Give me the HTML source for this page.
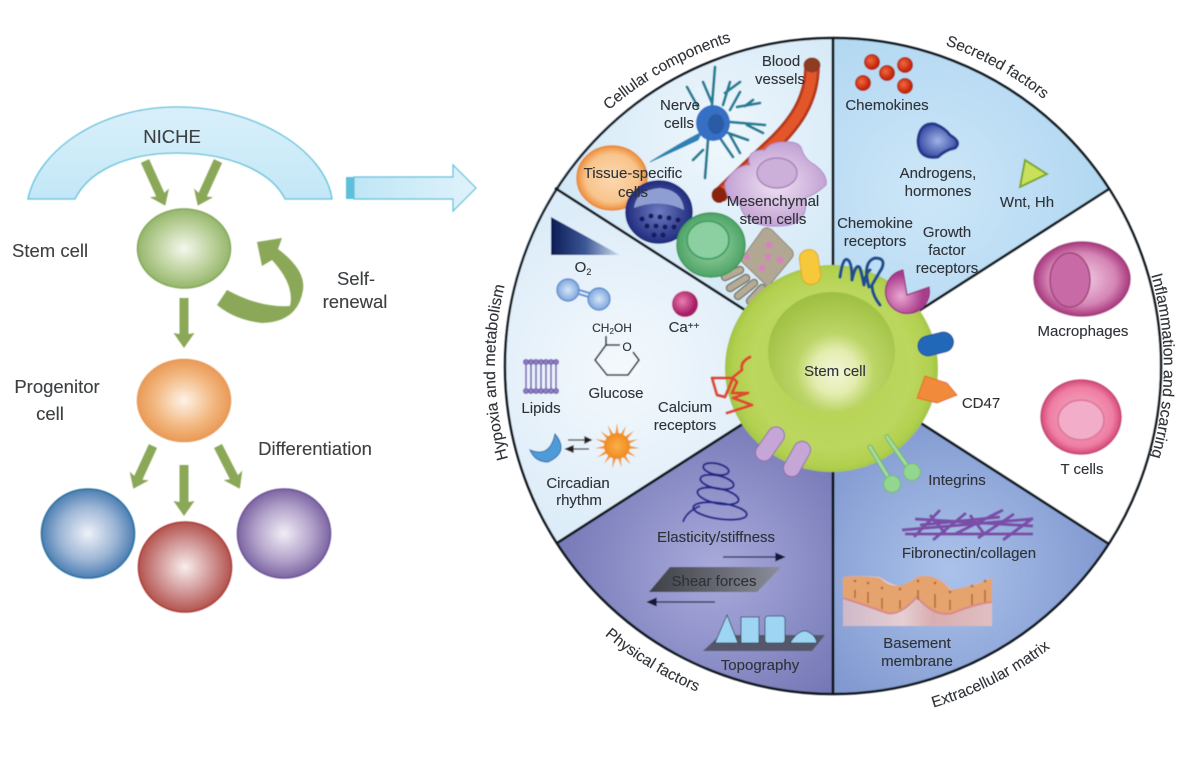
<!DOCTYPE html>
<html><head><meta charset="utf-8"><title>Stem cell niche</title>
<style>html,body{margin:0;padding:0;background:#fff}svg{display:block}text{font-family:"Liberation Sans",sans-serif;fill:#2f3337;stroke:#2f3337;stroke-width:.12px}.lft text{fill:#3c3f42;stroke:#3c3f42}</style></head>
<body>
<svg xmlns="http://www.w3.org/2000/svg" width="1200" height="767" viewBox="0 0 1200 767">
<defs>
<filter id="soft" x="-2%" y="-2%" width="104%" height="104%"><feGaussianBlur stdDeviation="0.55"/></filter>
<filter id="softT" x="-2%" y="-2%" width="104%" height="104%"><feGaussianBlur stdDeviation="0.35"/></filter>
<linearGradient id="sky" x1="0" y1="0" x2="0" y2="1"><stop offset="0" stop-color="#d9f0fa"/><stop offset="1" stop-color="#c3e7f7"/></linearGradient>
<linearGradient id="sky2" x1="0" y1="0" x2="1" y2="0"><stop offset="0" stop-color="#bfe6f6"/><stop offset="1" stop-color="#dff3fb"/></linearGradient>
<radialGradient id="gG"><stop offset="0" stop-color="#f4f8ee"/><stop offset=".6" stop-color="#bdd29d"/><stop offset="1" stop-color="#95b76c"/></radialGradient>
<radialGradient id="gO"><stop offset="0" stop-color="#fdf3e8"/><stop offset=".6" stop-color="#f3bb85"/><stop offset="1" stop-color="#ea9a57"/></radialGradient>
<radialGradient id="gB"><stop offset="0" stop-color="#eef2f8"/><stop offset=".6" stop-color="#9db6d6"/><stop offset="1" stop-color="#4d7fb3"/></radialGradient>
<radialGradient id="gR"><stop offset="0" stop-color="#f8eeee"/><stop offset=".6" stop-color="#cf9291"/><stop offset="1" stop-color="#b4544f"/></radialGradient>
<radialGradient id="gP"><stop offset="0" stop-color="#f1eef6"/><stop offset=".6" stop-color="#b3a3cb"/><stop offset="1" stop-color="#7d66a3"/></radialGradient>
<radialGradient id="s1" gradientUnits="userSpaceOnUse" cx="720" cy="140" r="190"><stop offset="0" stop-color="#eef7fc"/><stop offset="1" stop-color="#cfe6f6"/></radialGradient>
<radialGradient id="s2" gradientUnits="userSpaceOnUse" cx="930" cy="190" r="200"><stop offset="0" stop-color="#cde6f8"/><stop offset="1" stop-color="#aed6f1"/></radialGradient>
<radialGradient id="s3" gradientUnits="userSpaceOnUse" cx="620" cy="370" r="170"><stop offset="0" stop-color="#f4f9fd"/><stop offset="1" stop-color="#dcecf8"/></radialGradient>
<radialGradient id="s4" gradientUnits="userSpaceOnUse" cx="715" cy="570" r="165"><stop offset="0" stop-color="#a9abdc"/><stop offset="1" stop-color="#7577b6"/></radialGradient>
<radialGradient id="s5" gradientUnits="userSpaceOnUse" cx="950" cy="570" r="170"><stop offset="0" stop-color="#abc3ea"/><stop offset="1" stop-color="#7f96cf"/></radialGradient>
<radialGradient id="stemO" gradientUnits="userSpaceOnUse" cx="832" cy="368" r="106"><stop offset="0" stop-color="#b4d04f"/><stop offset=".75" stop-color="#bcd75e"/><stop offset=".93" stop-color="#b2d04f"/><stop offset="1" stop-color="#a3c545"/></radialGradient>
<radialGradient id="stemN" gradientUnits="userSpaceOnUse" cx="835" cy="372" r="78"><stop offset="0" stop-color="#f2f6d8"/><stop offset=".28" stop-color="#e4edb0"/><stop offset=".5" stop-color="#bcd567"/><stop offset="1" stop-color="#9fc042"/></radialGradient>
<radialGradient id="orC"><stop offset="0" stop-color="#fbd9b0"/><stop offset=".75" stop-color="#f8c48d"/><stop offset="1" stop-color="#ee8f3c"/></radialGradient>
<radialGradient id="blC"><stop offset="0" stop-color="#6d7cc0"/><stop offset="1" stop-color="#222d80"/></radialGradient>
<radialGradient id="grC"><stop offset="0" stop-color="#a4d9a8"/><stop offset="1" stop-color="#4ea468"/></radialGradient>
<radialGradient id="puC"><stop offset="0" stop-color="#f0e2f3"/><stop offset="1" stop-color="#c3a2d4"/></radialGradient>
<radialGradient id="maC"><stop offset="0" stop-color="#f3cfe5"/><stop offset=".7" stop-color="#d585b5"/><stop offset="1" stop-color="#a8397e"/></radialGradient>
<radialGradient id="tC"><stop offset="0" stop-color="#f7b8ce"/><stop offset=".8" stop-color="#ee7ea2"/><stop offset="1" stop-color="#d44a7b"/></radialGradient>
<radialGradient id="redB" cx=".4" cy=".4"><stop offset="0" stop-color="#ef6a3d"/><stop offset="1" stop-color="#c6260f"/></radialGradient>
<radialGradient id="ca" cx=".4" cy=".4"><stop offset="0" stop-color="#ec7fae"/><stop offset="1" stop-color="#a81d68"/></radialGradient>
<radialGradient id="o2" cx=".5" cy=".5"><stop offset="0" stop-color="#d7e7f8"/><stop offset="1" stop-color="#7fa7dd"/></radialGradient>
<radialGradient id="pac" cx=".35" cy=".6"><stop offset="0" stop-color="#eba8d2"/><stop offset="1" stop-color="#a83c8c"/></radialGradient>
<radialGradient id="andr"><stop offset="0" stop-color="#9fb2e6"/><stop offset="1" stop-color="#3a4fa6"/></radialGradient>
<linearGradient id="tri"><stop offset="0" stop-color="#0c1c55"/><stop offset=".5" stop-color="#3d5797"/><stop offset="1" stop-color="#d5e3f2"/></linearGradient>
<linearGradient id="shear" x1="0" y1="0" x2="1" y2="0"><stop offset="0" stop-color="#3e4046"/><stop offset="1" stop-color="#8b8d99"/></linearGradient>
<linearGradient id="base" x1="0" y1="0" x2="1" y2="0"><stop offset="0" stop-color="#cfb9c9"/><stop offset=".4" stop-color="#e5cfd2"/><stop offset=".6" stop-color="#d9aeb0"/><stop offset="1" stop-color="#e0bfc2"/></linearGradient>
<radialGradient id="sun"><stop offset="0" stop-color="#f9b04c"/><stop offset="1" stop-color="#f08a1e"/></radialGradient>
<path id="pTop" d="M493,366 A340,340 0 0 1 1173,366"/>
<path id="pLeft" d="M833,704 A338,338 0 0 1 833,28"/>
<path id="pRight" d="M833,35 A331,331 0 0 1 833,697"/>
<path id="pBotL" d="M480,366 A353,353 0 0 0 1186,366"/>
<path id="pBotR" d="M477,366 A356,356 0 0 0 1189,366"/>
</defs>
<rect width="1200" height="767" fill="#fff"/>
<g filter="url(#soft)">

<!-- LEFT PANEL -->
<path d="M28,199 C38,150 100,107 177,107 C255,107 325,150 332,199 L285,199 C272,172 230,153 177,153 C125,153 88,172 75,199 Z" fill="url(#sky)" stroke="#5cc0da" stroke-width="1.3"/>
<rect x="346" y="177" width="8" height="22" fill="#5cc0da"/>
<path d="M354,177 H453 V165 L476,188 L453,211 V199 H354 Z" fill="url(#sky2)" stroke="#5cc0da" stroke-width="1.2"/>
<g fill="#8aa858">
<polygon transform="translate(145,161) rotate(-24.4)" points="-4.5,0 4.5,0 4.5,37 10.5,35 0,49 -10.5,35 -4.5,37"/>
<polygon transform="translate(218,161) rotate(24.4)" points="-4.5,0 4.5,0 4.5,37 10.5,35 0,49 -10.5,35 -4.5,37"/>
<polygon transform="translate(184,298)" points="-4.5,0 4.5,0 4.5,36 10.5,35 0,50 -10.5,35 -4.5,36"/>
<polygon transform="translate(153,446) rotate(24.7)" points="-4.5,0 4.5,0 4.5,35 10.5,33 0,47 -10.5,33 -4.5,35"/>
<polygon transform="translate(184,465)" points="-4.5,0 4.5,0 4.5,37 10.5,36 0,51 -10.5,36 -4.5,37"/>
<polygon transform="translate(218,446) rotate(-27)" points="-4.5,0 4.5,0 4.5,35 10.5,33 0,48 -10.5,33 -4.5,35"/>
<path d="M217,305 L227,290 Q260,308 290,306 Q295,285 272,260 L262,266 L257,242 L282,238 L278,249 Q306,270 303,290 Q298,322 262,323 Q235,320 217,305 Z"/>
</g>
<ellipse cx="184" cy="248.5" rx="46.5" ry="39.5" fill="url(#gG)" stroke="#82a85a" stroke-width="1.5"/>
<ellipse cx="184" cy="400.5" rx="46.5" ry="41" fill="url(#gO)" stroke="#e59a5a" stroke-width="1.5"/>
<ellipse cx="88" cy="533.5" rx="46.5" ry="44.5" fill="url(#gB)" stroke="#2c6f9f" stroke-width="1.6"/>
<ellipse cx="185" cy="567" rx="46.5" ry="45" fill="url(#gR)" stroke="#ab3f3e" stroke-width="1.6"/>
<ellipse cx="284" cy="533.5" rx="46.5" ry="44.5" fill="url(#gP)" stroke="#6e5597" stroke-width="1.6"/>

<!-- WHEEL SECTORS -->
<path d="M833,366 L555,188 A328,328 0 0 1 833,38 Z" fill="url(#s1)"/>
<path d="M833,366 L833,38 A328,328 0 0 1 1109,189 Z" fill="url(#s2)"/>
<path d="M833,366 L1109,189 A328,328 0 0 1 1109,544 Z" fill="#fff"/>
<path d="M833,366 L1109,544 A328,328 0 0 1 833,694 Z" fill="url(#s5)"/>
<path d="M833,366 L833,694 A328,328 0 0 1 557,543 Z" fill="url(#s4)"/>
<path d="M833,366 L557,543 A328,328 0 0 1 555,188 Z" fill="url(#s3)"/>
<circle cx="833" cy="366" r="328" fill="none" stroke="#10181f" stroke-width="2.5"/>
<g stroke="#10181f" stroke-width="2.8">
<line x1="833" y1="38" x2="833" y2="694"/>
<line x1="555" y1="188" x2="1109" y2="544"/>
<line x1="557" y1="543" x2="1109" y2="189"/>
</g>

<!-- Cellular components icons -->
<g fill="none" stroke="#237e95" stroke-width="2.8" stroke-linecap="round">
<path d="M712,105 L715,67 M703,82 L712,103 M723,105 L730,82 M725,93 L740,82 M730,110 L740,92 M737,107 L760,103 M745,106 L753,100 M730,122 L765,125 M747,125 L763,133 M728,133 L748,140 M730,135 L740,153 M720,138 L733,157 M708,140 L705,178 M703,150 L693,160 M698,107 L687,87"/>
</g>
<path d="M702,132 Q680,143 650,162 Q676,150 698,140 Z" fill="#2f7ebc" stroke="#2f8aa8" stroke-width="1"/>
<ellipse cx="713" cy="123" rx="17" ry="18" fill="#3570c5"/>
<ellipse cx="716" cy="124" rx="8" ry="10" fill="#2b5ca6"/>
<path d="M812,66 C812,100 795,125 767,150 L719,196" fill="none" stroke="#b53a1c" stroke-width="16"/>
<path d="M812,66 C812,100 795,125 767,150 L719,196" fill="none" stroke="#e2572c" stroke-width="10"/>
<ellipse cx="812" cy="65" rx="8.5" ry="7.5" fill="#8f3a20"/>
<ellipse cx="719" cy="195" rx="7.5" ry="8" fill="#8a2010"/>
<path d="M725,183 Q735,165 750,165 Q745,150 765,150 Q770,142 785,142 Q800,141 802,150 Q805,160 815,165 Q828,175 826,185 Q815,195 805,198 Q810,225 780,226 Q745,228 740,205 Q725,200 725,183 Z" fill="url(#puC)" stroke="#b08cc9" stroke-width="1"/>
<ellipse cx="777" cy="173" rx="20" ry="15" fill="#cdb0d9" stroke="#a884bd" stroke-width="1.5"/>
<ellipse cx="612" cy="178" rx="35" ry="32" fill="url(#orC)" stroke="#e98a34" stroke-width="1.5"/>
<ellipse cx="659" cy="212" rx="33" ry="31" fill="url(#blC)" stroke="#1e2a7c" stroke-width="1.5"/>
<path d="M634,208 Q636,190 660,188 Q682,190 684,210 Q660,198 634,208 Z" fill="#8f9ed2"/>
<g fill="#141d60">
<circle cx="642" cy="219" r="2.5"/><circle cx="651" cy="216" r="2.5"/><circle cx="660" cy="217" r="2.5"/><circle cx="669" cy="218" r="2.5"/><circle cx="678" cy="220" r="2.5"/><circle cx="647" cy="226" r="2.5"/><circle cx="656" cy="226" r="2.5"/><circle cx="665" cy="227" r="2.5"/><circle cx="674" cy="227" r="2.5"/><circle cx="654" cy="235" r="2.5"/><circle cx="663" cy="235" r="2.5"/>
</g>
<g fill="none" stroke="#6f6a5c" stroke-width="8.5" stroke-linecap="round"><path d="M740,270 L725,277 M746,278 L730,288 M754,283 L738,296 M762,288 L750,301"/></g>
<g fill="none" stroke="#b4aa96" stroke-width="6" stroke-linecap="round"><path d="M740,270 L725,277 M746,278 L730,288 M754,283 L738,296 M762,288 L750,301"/></g>
<path d="M763,229 Q767,226 772,230 L792,250 Q795,255 791,259 L768,287 L742,262 Q740,258 745,254 Z" fill="#b2a793" stroke="#8e8574" stroke-width="1"/>
<g fill="#d583bd"><circle cx="769" cy="245" r="3.5"/><circle cx="768" cy="257" r="3.5"/><circle cx="780" cy="260" r="3.5"/><circle cx="762" cy="268" r="3.5"/><circle cx="747" cy="257" r="3"/></g>
<ellipse cx="711" cy="245" rx="34" ry="32" fill="url(#grC)" stroke="#3f9a5c" stroke-width="1.5"/>
<ellipse cx="708" cy="240" rx="21" ry="19" fill="#8cd0a2" stroke="#47a268" stroke-width="2"/>

<!-- Hypoxia icons -->
<polygon points="551,217 551,255 620,255" fill="url(#tri)"/>
<line x1="572" y1="290" x2="596" y2="297" stroke="#5f8ed0" stroke-width="6"/>
<line x1="572" y1="290" x2="596" y2="297" stroke="#dfeafa" stroke-width="2"/>
<circle cx="568" cy="290" r="11" fill="url(#o2)" stroke="#5f8ed0" stroke-width="1.4"/>
<circle cx="599" cy="299" r="11" fill="url(#o2)" stroke="#5f8ed0" stroke-width="1.4"/>
<circle cx="685" cy="304" r="13" fill="url(#ca)"/>
<path d="M606,336 V345 H620 M633,352 L639,360 L628,375 H607 L595,360 L606,345" fill="none" stroke="#222" stroke-width="1.6"/>
<g fill="#8c7cc0" stroke="#6452a5" stroke-width=".8">
<circle cx="526" cy="362" r="2.6"/><circle cx="531" cy="362" r="2.6"/><circle cx="536" cy="362" r="2.6"/><circle cx="541" cy="362" r="2.6"/><circle cx="546" cy="362" r="2.6"/><circle cx="551" cy="362" r="2.6"/><circle cx="556" cy="362" r="2.6"/>
<circle cx="526" cy="391" r="2.6"/><circle cx="531" cy="391" r="2.6"/><circle cx="536" cy="391" r="2.6"/><circle cx="541" cy="391" r="2.6"/><circle cx="546" cy="391" r="2.6"/><circle cx="551" cy="391" r="2.6"/><circle cx="556" cy="391" r="2.6"/>
</g>
<path d="M526,364 V389 M531,364 V389 M536,364 V389 M541,364 V389 M546,364 V389 M551,364 V389 M556,364 V389" stroke="#7a68b4" stroke-width="1.6"/>
<path d="M555,434 Q570,452 548,462 Q535,462 530,450 Q550,458 555,434 Z" fill="#4f9bd8" stroke="#2b6da8" stroke-width="1"/>
<g stroke="#222" stroke-width="1.3" fill="#222"><line x1="568" y1="440" x2="586" y2="440"/><polygon points="591,440 585,437 585,443"/><line x1="572" y1="449" x2="589" y2="449"/><polygon points="566,449 573,446 573,452"/></g>
<g transform="translate(617,446)" fill="#f39a2c">
<polygon points="-3.5,0 3.5,0 0,-23"/><polygon transform="rotate(24)" points="-3.5,0 3.5,0 0,-22"/><polygon transform="rotate(48)" points="-3.5,0 3.5,0 0,-23"/><polygon transform="rotate(72)" points="-3.5,0 3.5,0 0,-22"/><polygon transform="rotate(96)" points="-3.5,0 3.5,0 0,-23"/><polygon transform="rotate(120)" points="-3.5,0 3.5,0 0,-22"/><polygon transform="rotate(144)" points="-3.5,0 3.5,0 0,-23"/><polygon transform="rotate(168)" points="-3.5,0 3.5,0 0,-22"/><polygon transform="rotate(192)" points="-3.5,0 3.5,0 0,-23"/><polygon transform="rotate(216)" points="-3.5,0 3.5,0 0,-22"/><polygon transform="rotate(240)" points="-3.5,0 3.5,0 0,-23"/><polygon transform="rotate(264)" points="-3.5,0 3.5,0 0,-22"/><polygon transform="rotate(288)" points="-3.5,0 3.5,0 0,-23"/><polygon transform="rotate(312)" points="-3.5,0 3.5,0 0,-22"/><polygon transform="rotate(336)" points="-3.5,0 3.5,0 0,-23"/>
<circle r="13" fill="url(#sun)"/></g>

<!-- Secreted icons -->
<g fill="url(#redB)" stroke="#a62a10" stroke-width="1"><circle cx="872" cy="62" r="7.5"/><circle cx="887" cy="73" r="7.5"/><circle cx="905" cy="65" r="7.5"/><circle cx="863" cy="83" r="7.5"/><circle cx="905" cy="86" r="7.5"/></g>
<path d="M918,140 Q920,122 935,124 Q945,128 950,135 Q962,142 955,148 Q945,150 938,157 Q918,160 918,140 Z" fill="url(#andr)" stroke="#25398e" stroke-width="3"/>
<polygon points="1025,160 1047,174 1020,187" fill="#c8e05a" stroke="#7da52a" stroke-width="2"/>

<!-- Macrophage & T -->
<ellipse cx="1082" cy="279" rx="48" ry="37" fill="url(#maC)" stroke="#a33a7f" stroke-width="1.5"/>
<ellipse cx="1070" cy="280" rx="20" ry="27" fill="#c76ba6" stroke="#a4447f" stroke-width="1.5"/>
<ellipse cx="1081" cy="417" rx="40" ry="37" fill="url(#tC)" stroke="#c74471" stroke-width="1.5"/>
<ellipse cx="1081" cy="420" rx="23" ry="20" fill="#f2aec8" stroke="#e07ba0" stroke-width="2"/>

<!-- Central cell -->
<ellipse cx="831.5" cy="368.5" rx="106.5" ry="103.5" fill="url(#stemO)"/>
<ellipse cx="831.5" cy="352" rx="63.5" ry="60" fill="url(#stemN)"/>

<!-- Membrane parts -->
<g stroke="#6fb46c" stroke-width="5" stroke-linecap="round"><line x1="870" y1="447" x2="890" y2="480"/><line x1="887" y1="437" x2="910" y2="470"/></g>
<g stroke="#a3dd9c" stroke-width="3" stroke-linecap="round"><line x1="870" y1="447" x2="890" y2="480"/><line x1="887" y1="437" x2="910" y2="470"/></g>
<circle cx="892" cy="484" r="8.5" fill="#93d68f" stroke="#70bc6f"/>
<circle cx="912" cy="472" r="8.5" fill="#93d68f" stroke="#70bc6f"/>
<rect x="-9.5" y="-17.5" width="19" height="35" rx="9" transform="translate(810,267) rotate(-8)" fill="#f5c93a" stroke="#e0a41c"/>
<path d="M840,277 Q843,256 848,260 Q852,263 852,280 Q856,262 860,268 Q862,275 864,285 Q866,272 870,270" fill="none" stroke="#1d4f8f" stroke-width="3.2" stroke-linejoin="round" stroke-linecap="round"/>
<path d="M869,287 Q862,262 875,258 Q886,258 882,268 Q876,278 872,285 Q872,295 880,305" fill="none" stroke="#1d4f8f" stroke-width="3.2" stroke-linecap="round"/>
<path d="M903,270 A22,22 0 1 0 929,287 L907,295 Z" fill="url(#pac)" stroke="#93327a" stroke-width="1.2"/>
<rect x="-18" y="-10" width="36" height="20" rx="10" transform="translate(935.7,344) rotate(-14)" fill="#2468b9" stroke="#174f96"/>
<polygon points="925,376 947,383 957,395 937,403 917,398" fill="#f18a3a" stroke="#e26c1e"/>
<g transform="translate(770,444) rotate(35)"><rect x="-8.5" y="-19" width="17" height="38" rx="8.5" fill="#c5a6d6" stroke="#8f6ba8"/></g>
<g transform="translate(797,459) rotate(29)"><rect x="-8.5" y="-19" width="17" height="38" rx="8.5" fill="#c5a6d6" stroke="#8f6ba8"/></g>
<path d="M750,357 Q740,362 742,370 L732,378 L712,378 L717,395 L725,397 L733,378 L737,382 L732,393 L748,393 L733,398 L752,405 L727,413" fill="none" stroke="#dd4b30" stroke-width="3" stroke-linejoin="round" stroke-linecap="round"/>

<!-- Physical icons -->
<g fill="none" stroke="#25288a" stroke-width="2">
<ellipse cx="716" cy="469" rx="13" ry="5.5" transform="rotate(12 716 469)"/>
<ellipse cx="717" cy="482" rx="17" ry="6.5" transform="rotate(12 717 482)"/>
<ellipse cx="718" cy="496" rx="21" ry="7.5" transform="rotate(12 718 496)"/>
<ellipse cx="720" cy="511" rx="27" ry="8" transform="rotate(8 720 511)"/>
<path d="M683,522 Q686,512 700,506"/>
</g>
<polygon points="670,567 781,567 757,592 649,592" fill="url(#shear)"/>
<g stroke="#15163a" stroke-width="1.3" fill="#15163a"><line x1="723" y1="557" x2="778" y2="557"/><polygon points="784,557 776,553.5 776,560.5"/><line x1="654" y1="602" x2="715" y2="602"/><polygon points="648,602 656,598.5 656,605.5"/></g>
<polygon points="720,635 825,635 812,651 703,651" fill="#55566a"/>
<g stroke="#2f3a55" stroke-width=".8" fill="#9dd5f2">
<polygon points="727,615 715,643 738,643"/>
<rect x="741" y="617" width="18" height="26"/>
<rect x="765" y="616" width="20" height="27" rx="3"/>
<path d="M790,643 Q798,630 806,631 Q815,634 817,643 Z"/>
</g>

<!-- ECM icons -->
<g stroke="#7a4ea8" stroke-width="3" fill="none">
<path d="M902,530 L1032,519 M905,534 L1033,534 M915,519 L1033,526 M920,525 L1000,517"/>
<path d="M914,537 L940,510 M933,540 L966,513 M955,534 L1003,510 M978,538 L1014,514 M1003,540 L1033,518 M930,515 L945,533 M970,515 L985,535"/>
</g>
<path d="M843,577 Q860,575 880,577 Q905,595 917,577 Q935,572 953,590 Q975,585 992,578 V626 H843 Z" fill="url(#base)"/>
<path d="M843,577 Q860,575 880,578 Q895,594 917,577 Q935,572 950,590 Q975,586 992,578 V602 Q975,604 953,613 Q935,618 917,597 Q900,616 887,613 Q865,605 843,598 Z" fill="#e5a36d"/>
<path d="M843,598 Q865,605 887,613 Q900,616 917,597 Q935,618 953,613 Q975,604 992,602" fill="none" stroke="#d98a8a" stroke-width="2"/>
<g fill="#b76a3c"><circle cx="855" cy="581" r="1.3"/><circle cx="868" cy="583" r="1.3"/><circle cx="882" cy="588" r="1.3"/><circle cx="900" cy="589" r="1.3"/><circle cx="918" cy="581" r="1.3"/><circle cx="935" cy="583" r="1.3"/><circle cx="950" cy="592" r="1.3"/><circle cx="972" cy="586" r="1.3"/><circle cx="985" cy="581" r="1.3"/></g>
<path d="M855,590 V598 M868,592 V603 M882,598 V609 M900,600 V609 M918,590 V600 M935,594 V608 M950,600 V610 M972,594 V605 M985,590 V602" stroke="#b76a3c" stroke-width="1.6"/>
</g>

<!-- ALL TEXT -->
<g filter="url(#softT)">
<g font-size="18.5" class="lft">
<text x="172" y="143" text-anchor="middle" font-size="18.5">NICHE</text>
<text x="12" y="257">Stem cell</text>
<text x="356" y="285" text-anchor="middle">Self-</text>
<text x="355" y="308" text-anchor="middle">renewal</text>
<text x="57" y="393" text-anchor="middle">Progenitor</text>
<text x="50" y="420" text-anchor="middle">cell</text>
<text x="315" y="455" text-anchor="middle">Differentiation</text>
</g>
<g font-size="15.5">
<text><textPath href="#pTop" startOffset="33.7%" text-anchor="middle">Cellular components</textPath></text>
<text><textPath href="#pTop" startOffset="66%" text-anchor="middle">Secreted factors</textPath></text>
<text font-size="16"><textPath href="#pLeft" startOffset="49.4%" text-anchor="middle">Hypoxia and metabolism</textPath></text>
<text font-size="16"><textPath href="#pRight" startOffset="50%" text-anchor="middle">Inflammation and scarring</textPath></text>
<text><textPath href="#pBotL" startOffset="32.5%" text-anchor="middle">Physical factors</textPath></text>
<text><textPath href="#pBotR" startOffset="65%" text-anchor="middle">Extracellular matrix</textPath></text>
</g>
<g font-size="15" text-anchor="middle">
<text x="781" y="66">Blood</text><text x="780" y="84">vessels</text>
<text x="680" y="110">Nerve</text><text x="679" y="128">cells</text>
<text x="633" y="178">Tissue-specific</text><text x="633" y="197">cells</text>
<text x="773" y="206">Mesenchymal</text><text x="773" y="224">stem cells</text>
<text x="887" y="110">Chemokines</text>
<text x="938" y="178">Androgens,</text><text x="938" y="196">hormones</text>
<text x="1027" y="207">Wnt, Hh</text>
<text x="875" y="228">Chemokine</text><text x="875" y="246">receptors</text>
<text x="947" y="237">Growth</text><text x="947" y="255">factor</text><text x="947" y="273">receptors</text>
<text x="1083" y="336">Macrophages</text>
<text x="583" y="272">O<tspan font-size="9" dy="3">2</tspan></text>
<text x="684" y="332">Ca<tspan font-size="10" dy="-3">++</tspan></text>
<text x="612" y="332" font-size="12">CH<tspan font-size="8" dy="2">2</tspan><tspan dy="-2">OH</tspan></text>
<text x="627" y="351" font-size="12">O</text>
<text x="616" y="398">Glucose</text>
<text x="541" y="413">Lipids</text>
<text x="685" y="412">Calcium</text><text x="685" y="430">receptors</text>
<text x="578" y="488">Circadian</text><text x="579" y="505">rhythm</text>
<text x="835" y="376">Stem cell</text>
<text x="981" y="408">CD47</text>
<text x="1082" y="474">T cells</text>
<text x="957" y="485">Integrins</text>
<text x="716" y="542">Elasticity/stiffness</text>
<text x="714" y="586">Shear forces</text>
<text x="760" y="670">Topography</text>
<text x="969" y="558">Fibronectin/collagen</text>
<text x="917" y="648">Basement</text><text x="917" y="666">membrane</text>
</g>
</g>
</svg>
</body></html>
